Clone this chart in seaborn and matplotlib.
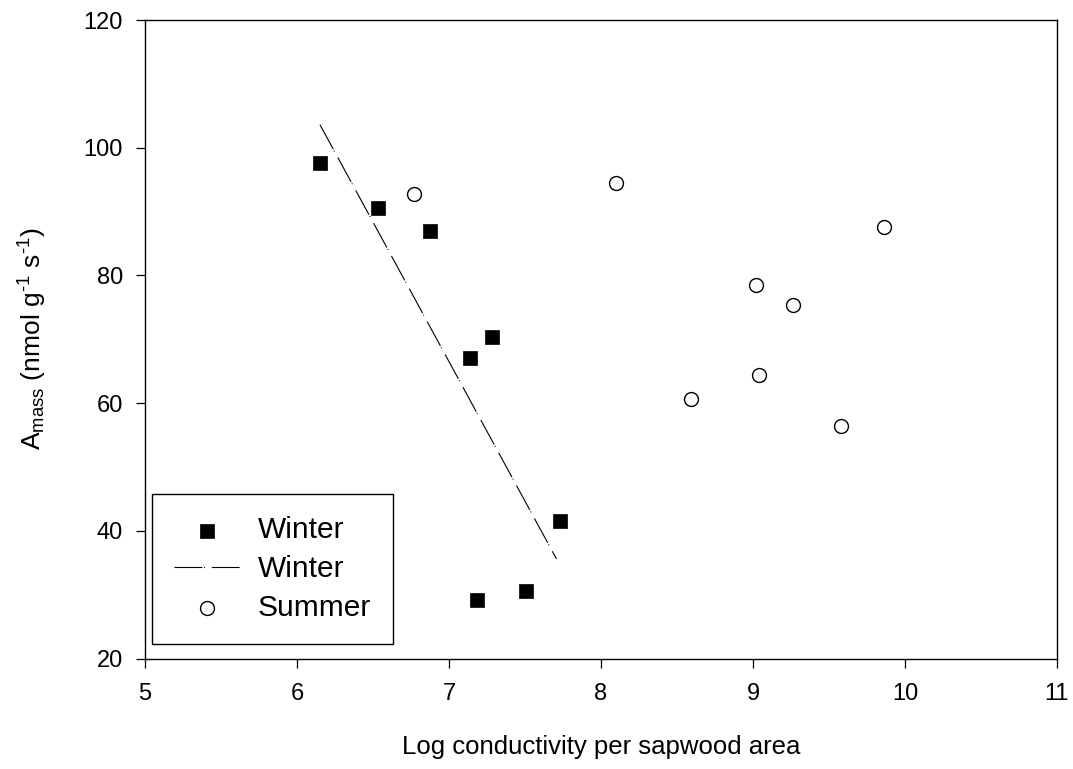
import matplotlib
matplotlib.use("Agg")
import matplotlib.pyplot as plt
import seaborn as sns
import pandas as pd

# ---- data ----
winter_x = [6.149, 6.536, 6.874, 7.135, 7.286, 7.185, 7.509, 7.733]
winter_y = [97.6, 90.5, 87.0, 67.0, 70.4, 29.1, 30.5, 41.6]
summer_x = [6.771, 8.097, 9.859, 9.017, 9.265, 9.039, 8.590, 9.580]
summer_y = [92.8, 94.4, 87.6, 78.5, 75.4, 64.4, 60.6, 56.4]
fit_x = [6.151, 7.707]
fit_y = [103.6, 35.6]
x_ticks = [5, 6, 7, 8, 9, 10, 11]
y_ticks = [20, 40, 60, 80, 100, 120]

sns.set_style("ticks")
plt.rcParams['font.family'] = ['Liberation Sans', 'DejaVu Sans']
plt.rcParams['mathtext.fontset'] = 'custom'
plt.rcParams['mathtext.rm'] = 'Liberation Sans'
plt.rcParams['mathtext.it'] = 'Liberation Sans:italic'
plt.rcParams['lines.scale_dashes'] = False
plt.rcParams['text.color'] = 'black'
plt.rcParams['axes.labelcolor'] = 'black'
plt.rcParams['xtick.color'] = 'black'
plt.rcParams['ytick.color'] = 'black'
plt.rcParams['axes.unicode_minus'] = False

fig = plt.figure(figsize=(10.73, 7.69), dpi=100)
W, H = 1073, 769
left, right, top, bottom = 145, 1057, 20, 658.5
ax = fig.add_axes([left / W, 1 - bottom / H, (right - left) / W, (bottom - top) / H])

df_w = pd.DataFrame({'x': winter_x, 'y': winter_y})
df_s = pd.DataFrame({'x': summer_x, 'y': summer_y})
df_f = pd.DataFrame({'x': fit_x, 'y': fit_y})

sns.scatterplot(data=df_w, x='x', y='y', marker='s', s=110, color='black',
                edgecolor='black', linewidth=0.5, ax=ax, label='Winter', zorder=3)
sns.lineplot(data=df_f, x='x', y='y', color='black', linewidth=0.8, ax=ax,
             label='Winter', zorder=2)
sns.scatterplot(data=df_s, x='x', y='y', marker='o', s=100, facecolor='white',
                edgecolor='black', linewidth=1.0, ax=ax, label='Summer', zorder=3)

for ln in ax.lines:
    ln.set_dashes((20, 1.2, 0.7, 5))

ax.set_xlim(5, 11)
ax.set_ylim(20, 120)
ax.set_xticks(x_ticks)
ax.set_yticks(y_ticks)
ax.set_xticklabels([str(t) for t in x_ticks])
ax.set_yticklabels([str(t) for t in y_ticks])
ax.tick_params(axis='both', direction='out', length=6.5, width=0.9, labelsize=17,
               colors='black')
ax.tick_params(axis='x', pad=11.5)
ax.tick_params(axis='y', pad=9.5)
for sp in ax.spines.values():
    sp.set_visible(True)
    sp.set_linewidth(1.0)
    sp.set_color('black')

ax.set_xlabel('Log conductivity per sapwood area', fontsize=18.5, va='center')
ax.xaxis.set_label_coords(0.5, -0.138)
ax.set_ylabel(r'A$_{\mathregular{mass}}$ (nmol g$^{\text{-1}}$ s$^{\text{-1}}$)',
              fontsize=19, va='center')
ax.yaxis.set_label_coords(-0.123, 0.5)

handles, labels = ax.get_legend_handles_labels()
leg = ax.legend(handles, labels, loc='lower left',
                bbox_to_anchor=(7 / 912, 14.5 / 638.5), borderaxespad=0,
                fontsize=21.5, frameon=True, fancybox=False, edgecolor='black',
                framealpha=1, handlelength=2.2, handletextpad=0.6,
                labelspacing=0.36, borderpad=0.74)
leg.get_frame().set_linewidth(1.0)
for t in leg.get_texts():
    t.set_color('black')

fig.savefig('out.png', dpi=100)
